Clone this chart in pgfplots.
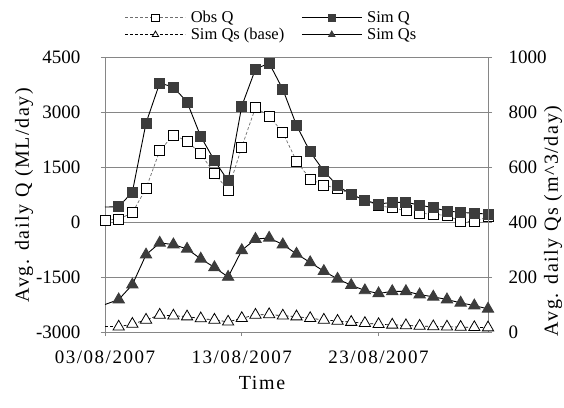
\documentclass[border=0pt]{standalone}
\usepackage{fontspec}
\setmainfont{Liberation Serif}
\newfontfamily\spaced[LetterSpace=8]{Liberation Serif}
\usepackage{pgfplots}
\pgfplotsset{compat=1.18}
\definecolor{gridgray}{RGB}{134,134,134}
\definecolor{markfill}{RGB}{60,60,60}
\definecolor{obsline}{RGB}{110,110,110}
\pgfplotsset{
  every axis/.append style={
    scale only axis, width=383pt, height=275pt,
    xmin=0, xmax=28, clip=false,
    /pgf/number format/assume math mode=true,
    /pgf/number format/set thousands separator={},
    tick align=outside, major tick length=4pt,
    every tick/.style={gridgray, line width=0.8pt},
    axis line style={gridgray, line width=0.9pt},
    ticklabel style={font=\fontsize{19}{19}\selectfont},
    label style={font=\spaced\fontsize{20}{20}\selectfont},
  },
  legend image code/.code={
    \draw[#1, mark=none] (0pt,0pt) -- (60pt,0pt);
    \draw[#1, mark size=3.6pt] plot coordinates {(30pt,0pt)};
  },
}
\begin{document}
\begin{tikzpicture}
\useasboundingbox (-105pt,-75pt) rectangle (459pt,332pt);
\begin{axis}[
  at={(0pt,0pt)}, anchor=south west,
  axis x line*=bottom, axis y line*=left,
  ymin=-3000, ymax=4500, ytick={-3000,-1500,0,1500,3000,4500},
  ymajorgrids, grid style={gridgray, line width=0.9pt},
  xtick={0,10,20}, xticklabels={03/08/2007,13/08/2007,23/08/2007},
  xticklabel style={font=\spaced\fontsize{19}{19}\selectfont, anchor=center, yshift=-21pt},
  yticklabel style={anchor=east, xshift=-17pt},
  xlabel={Time},
  xlabel style={at={(axis description cs:0.41,-0.185)}, anchor=center},
  ylabel={Avg. daily Q (ML/day)},
  ylabel style={at={(axis description cs:-0.2115,0.498)}, anchor=center, rotate=0},
]
\addplot[obsline, densely dashed, line width=0.7pt, mark=square*, mark size=5pt,
  mark options={solid, draw=black, fill=white, line width=0.8pt}]
coordinates {
(0,55)(1,75)(2,253)(3,917)(4,1940)(5,2375)(6,2203)(7,1858)(8,1325)(9,870)
(10,2048)(11,3120)(12,2891)(13,2440)(14,1659)(15,1170)(16,1006)(17,917)(18,760)(19,600)
(20,443)(21,389)(22,307)(23,237)(24,218)(25,171)(26,27)(27,8)(28,144)
};
\addplot[black, line width=0.9pt, no marks, forget plot] coordinates {(0,408)(1,416)};
\addplot[black, line width=0.9pt, mark=square*, mark size=5pt,
  mark options={solid, draw=markfill, fill=markfill}]
coordinates {
(1,416)(2,816)(3,2701)(4,3789)(5,3680)(6,3272)(7,2331)(8,1678)(9,1123)
(10,3163)(11,4170)(12,4333)(13,3618)(14,2638)(15,1912)(16,1387)(17,987)(18,753)(19,590)
(20,490)(21,536)(22,536)(23,462)(24,389)(25,299)(26,264)(27,237)(28,218)
};
\end{axis}
\begin{axis}[
  at={(0pt,0pt)}, anchor=south west,
  axis x line=none, axis y line*=right,
  ymin=0, ymax=1000, ytick={0,200,...,1000},
  yticklabel style={anchor=west, xshift=13pt},
  ylabel={Avg. daily Qs (m\textasciicircum 3/day)},
  ylabel style={at={(axis description cs:1.170,0.404)}, anchor=center, rotate=0},
  legend style={at={(axis description cs:0.052,1.167)}, anchor=north west,
    draw=none, fill=none, inner sep=0pt, legend columns=2,
    font=\fontsize{16.5}{16.5}\selectfont,
    nodes={inner sep=0pt},
    /tikz/every odd column/.append style={column sep=5pt},
    /tikz/every even column/.append style={column sep=17pt},
    row sep=4pt},
  legend cell align=left,
]
\addlegendimage{obsline, densely dashed, line width=0.7pt, mark=square*, mark size=5pt, mark options={solid, draw=black, fill=white, line width=0.8pt}}
\addlegendentry{Obs Q}
\addlegendimage{black, line width=0.9pt, mark=square*, mark size=5pt, mark options={solid, draw=markfill, fill=markfill}}
\addlegendentry{Sim Q}
\addplot[black, densely dashed, line width=0.7pt, no marks, forget plot] coordinates {(0,19)(1,19)};
\addplot[black, densely dashed, line width=0.7pt, mark=triangle*, mark size=6.5pt,
  mark options={solid, draw=black, fill=white, line width=0.8pt}]
coordinates {
(1,19)(2,29)(3,44)(4,62)(5,59)(6,56)(7,49)(8,44)(9,37)
(10,50)(11,62)(12,64)(13,59)(14,56)(15,50)(16,44)(17,40)(18,36)(19,32)
(20,28)(21,26)(22,24)(23,22)(24,20)(25,19)(26,18)(27,17)(28,16)
};
\addlegendentry{Sim Qs (base)}
\addplot[black, line width=0.9pt, no marks, forget plot] coordinates {(0,100)(1,118)};
\addplot[black, line width=0.9pt, mark=triangle*, mark size=6.5pt,
  mark options={solid, draw=markfill, fill=markfill}]
coordinates {
(1,118)(2,172)(3,281)(4,324)(5,318)(6,302)(7,266)(8,235)(9,200)
(10,297)(11,338)(12,342)(13,318)(14,284)(15,253)(16,221)(17,193)(18,170)(19,151)
(20,140)(21,148)(22,148)(23,136)(24,128)(25,118)(26,106)(27,96)(28,84)
};
\addlegendentry{Sim Qs}
\end{axis}
\end{tikzpicture}
\end{document}
